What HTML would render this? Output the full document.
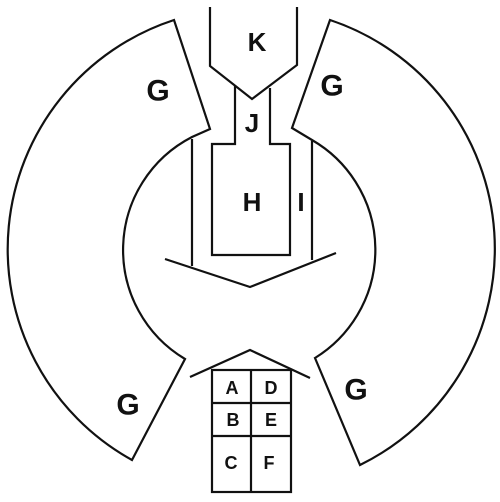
<!DOCTYPE html>
<html><head><meta charset="utf-8"><style>
html,body{margin:0;padding:0;background:#fff}
svg{display:block}
text{font-family:"Liberation Sans",sans-serif;font-weight:bold;fill:#111;text-anchor:middle;dominant-baseline:central}
</style></head><body>
<svg width="500" height="502" viewBox="0 0 500 502">
<g fill="none" stroke="#111" stroke-width="2.2" stroke-linejoin="miter">
<path d="M174,20 A241,241 0 0 0 132,460 L185,359 A127,127 0 0 1 192,137 L210,129 Z"/>
<path d="M330,20 A241,241 0 0 1 360,465 L315,358 A127,127 0 0 0 312,140 L292,128 Z"/>
<path d="M210,7 L210,66 L252,99 L297,65 L297,7"/>
<path d="M235,86 L235,144 L212,144 L212,255 L290,255 L290,144 L270,144 L270,88"/>
<path d="M192,139 L192,266"/>
<path d="M312,141 L312,260"/>
<path d="M165,259 L250,287 L336,253"/>
<path d="M190,377 L250,350 L310,378"/>
<rect x="212" y="370" width="79" height="122"/>
<path d="M251,370 L251,492 M212,403 L291,403 M212,436 L291,436"/>
</g>
<g font-size="30">
<text x="158" y="91">G</text>
<text x="332" y="86">G</text>
<text x="128" y="405">G</text>
<text x="356" y="390">G</text>
</g>
<g font-size="26">
<text x="257" y="42">K</text>
<text x="252" y="123">J</text>
<text x="252" y="202">H</text>
<text x="301" y="202">I</text>
</g>
<g font-size="18" style="font-weight:normal">
<text x="232" y="388">A</text>
<text x="271" y="388">D</text>
<text x="233" y="420">B</text>
<text x="271" y="420">E</text>
<text x="231" y="463">C</text>
<text x="269" y="463">F</text>
</g>
</svg>
</body></html>
